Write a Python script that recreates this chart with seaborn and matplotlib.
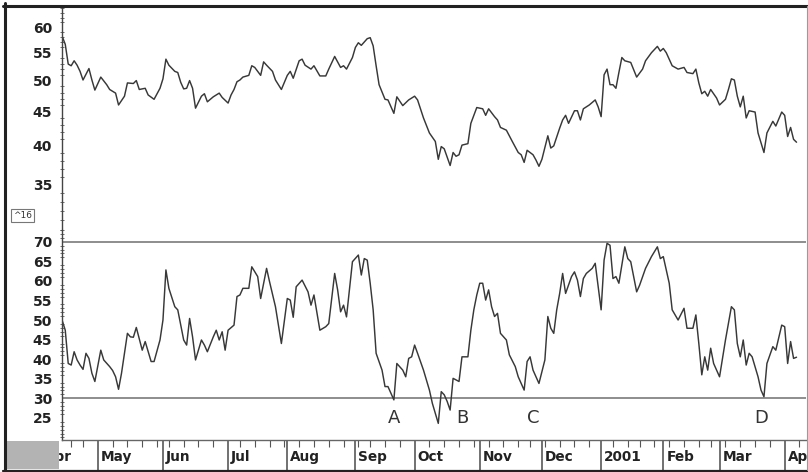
import numpy as np
import pandas as pd
import matplotlib
matplotlib.use("Agg")
import matplotlib.pyplot as plt
import seaborn as sns
from matplotlib.ticker import MultipleLocator, NullFormatter, FixedLocator
from matplotlib.transforms import offset_copy
from matplotlib.patches import Rectangle
from matplotlib.lines import Line2D

# ---------------- data ----------------
start_date = "2000-04-12"
holidays = ["2000-04-21", "2000-05-29", "2000-07-04", "2000-09-04", "2000-11-23",
            "2000-12-25", "2001-01-01", "2001-01-15", "2001-02-19"]

# price (top panel): trading-day offset from start_date, value
price_day = [0, 1, 2, 3, 4, 5, 6, 7, 9, 10, 11, 13, 15, 16, 18, 19, 21, 22, 24, 25, 26, 28, 29, 31,
             33, 34, 35, 36, 38, 39, 40, 41, 42, 43, 44, 45, 47, 48, 49, 51, 53, 54, 56, 57, 58, 59,
             60, 61, 63, 64, 65, 67, 68, 69, 71, 72, 74, 76, 77, 78, 80, 81, 82, 84, 85, 87, 89, 90,
             92, 94, 95, 96, 98, 99, 100, 101, 103, 104, 105, 106, 107, 109, 110, 112, 113, 115, 117,
             119, 120, 122, 124, 126, 127, 128, 129, 131, 132, 133, 134, 135, 137, 138, 140, 142, 143,
             144, 146, 147, 148, 150, 152, 154, 155, 156, 157, 159, 160, 161, 162, 164, 165, 166, 168,
             169, 170, 171, 173, 174, 175, 176, 178, 180, 181, 182, 183, 184, 185, 186, 187, 188, 189,
             190, 192, 194, 196, 197, 199, 201, 202, 203, 204, 206, 208, 210, 211, 213, 214, 215, 216,
             217, 218, 219, 221, 222, 224, 225, 226, 227, 228, 229, 230, 231, 232, 234, 235, 237, 238,
             240, 241, 243, 244, 245, 246, 247, 248]
price = [58.1, 56.6, 52.9, 52.6, 53.5, 52.7, 51.6, 50.1, 52.1, 50.1, 48.4, 50.6, 49.3, 48.5, 47.9, 46.0,
         47.4, 49.6, 49.5, 50.0, 48.5, 48.7, 47.6, 46.9, 48.7, 50.3, 53.8, 52.7, 51.6, 51.4, 49.7, 48.6,
         48.7, 50.0, 48.7, 45.5, 47.4, 47.8, 46.5, 47.3, 47.9, 47.2, 46.3, 47.6, 48.5, 49.8, 50.1, 50.6,
         50.9, 52.6, 52.3, 50.9, 53.3, 52.7, 51.6, 50.1, 48.5, 50.9, 51.6, 50.4, 53.5, 53.8, 52.7, 52.0,
         52.6, 50.8, 50.8, 52.0, 54.3, 52.3, 52.6, 52.0, 54.1, 56.0, 56.9, 56.4, 57.7, 57.9, 56.3, 52.6,
         49.3, 46.9, 46.8, 44.7, 47.3, 45.9, 46.8, 47.4, 46.8, 44.0, 41.8, 40.6, 38.2, 39.9, 39.6, 37.4,
         39.1, 38.6, 38.8, 40.1, 40.3, 43.2, 45.6, 45.4, 44.4, 45.4, 44.2, 43.7, 42.6, 42.2, 40.6, 39.1,
         38.8, 37.8, 39.4, 38.8, 38.1, 37.3, 38.2, 41.4, 39.7, 40.0, 42.5, 43.7, 44.4, 43.2, 45.1, 45.1,
         43.7, 45.4, 46.0, 46.8, 45.7, 44.2, 51.0, 52.0, 49.3, 49.3, 48.7, 51.4, 54.1, 53.5, 53.2, 50.6,
         52.0, 53.5, 55.0, 56.2, 55.3, 55.8, 55.0, 52.6, 52.0, 52.3, 51.4, 51.2, 52.0, 49.6, 47.8, 48.2,
         47.4, 48.5, 47.1, 46.0, 46.9, 48.5, 50.3, 50.1, 47.4, 45.7, 47.4, 44.0, 45.1, 44.9, 41.8, 39.1,
         41.8, 43.5, 42.8, 44.9, 44.4, 41.3, 42.6, 40.9, 40.5]

# oscillator (bottom panel)
osc_day = [0, 1, 2, 3, 4, 5, 6, 7, 8, 9, 10, 11, 13, 14, 16, 17, 18, 19, 20, 22, 23, 24, 25, 27, 28,
           29, 30, 31, 33, 34, 35, 36, 38, 39, 40, 41, 42, 43, 44, 45, 47, 48, 49, 51, 52, 53, 54, 55,
           56, 58, 59, 60, 61, 63, 64, 66, 67, 69, 70, 72, 73, 74, 76, 77, 78, 79, 81, 83, 84, 85, 87,
           89, 90, 92, 93, 94, 95, 96, 98, 100, 101, 102, 103, 104, 105, 106, 108, 109, 110, 112, 113,
           115, 116, 117, 118, 119, 120, 122, 124, 125, 127, 128, 129, 130, 131, 132, 134, 135, 137,
           138, 139, 140, 141, 142, 143, 144, 145, 146, 147, 148, 150, 151, 153, 154, 156, 157, 158,
           159, 161, 163, 164, 165, 166, 167, 168, 169, 170, 172, 173, 174, 175, 176, 177, 179, 180,
           181, 182, 183, 184, 185, 186, 187, 188, 190, 191, 192, 194, 195, 197, 199, 201, 202, 203,
           204, 205, 206, 207, 208, 210, 211, 213, 214, 215, 216, 217, 218, 219, 220, 222, 224, 226,
           227, 228, 229, 230, 231, 232, 233, 235, 236, 237, 238, 240, 241, 243, 244, 245, 246, 247, 248]
osc = [49.8, 47.4, 38.9, 38.5, 41.9, 39.8, 38.5, 37.4, 41.5, 40.2, 36.4, 34.3, 42.3, 39.8, 38.1, 37.1,
       35.5, 32.3, 36.4, 46.6, 45.7, 45.6, 48.1, 42.3, 44.5, 41.9, 39.4, 39.4, 44.9, 50.0, 62.8, 58.1,
       53.4, 52.6, 48.7, 44.9, 43.6, 50.4, 45.7, 39.8, 44.9, 43.6, 41.9, 45.7, 47.4, 44.9, 47.0, 42.3,
       47.4, 48.7, 56.0, 56.4, 58.1, 58.1, 63.6, 61.1, 55.5, 63.2, 59.8, 53.4, 48.7, 44.0, 55.5, 55.1,
       50.7, 58.5, 60.2, 57.2, 53.8, 56.4, 47.4, 48.3, 49.1, 61.9, 57.7, 52.1, 53.8, 50.8, 64.9, 66.6,
       61.5, 65.7, 65.3, 59.4, 52.6, 41.5, 37.2, 33.0, 33.0, 29.6, 38.9, 37.2, 35.5, 40.2, 40.6, 43.6,
       41.5, 37.2, 32.1, 28.7, 23.6, 31.7, 30.9, 29.2, 27.0, 35.1, 34.3, 40.6, 40.6, 47.4, 52.6, 56.4,
       59.4, 59.4, 55.1, 57.7, 53.4, 50.9, 51.7, 46.6, 44.9, 41.1, 38.1, 35.5, 32.1, 39.4, 40.6, 37.2,
       33.8, 39.8, 50.9, 47.9, 46.6, 52.6, 56.8, 61.9, 56.8, 61.1, 62.3, 60.2, 56.0, 60.6, 61.9, 63.2,
       64.5, 58.5, 52.6, 65.3, 69.6, 69.1, 60.6, 61.1, 59.4, 68.7, 65.7, 64.9, 57.2, 58.9, 63.2, 66.2,
       68.7, 65.7, 66.2, 62.8, 59.4, 52.6, 51.3, 50.0, 53.0, 47.9, 47.9, 51.3, 44.0, 36.0, 40.6, 37.2,
       42.8, 38.9, 35.5, 44.9, 53.4, 52.6, 44.0, 40.6, 44.9, 38.5, 41.5, 40.6, 35.5, 32.1, 30.4, 38.9,
       43.2, 42.3, 48.7, 48.3, 38.9, 44.5, 40.2, 40.5]

upper_level = 70
lower_level = 30
price_ticks = [35, 40, 45, 50, 55, 60]
osc_ticks = [25, 30, 35, 40, 45, 50, 55, 60, 65, 70]
signal_labels = ["A", "B", "C", "D"]
signal_day = [112, 135, 159, 236]
signal_level = [25, 25, 25, 25]
panel_tag = "^16"

# ---------------- calendar ----------------
cal = pd.bdate_range("2000-03-01", "2001-04-30", freq="C", holidays=holidays)
i0 = int(np.where(cal == pd.Timestamp(start_date))[0][0])
pos = np.arange(len(cal)) - i0
months = pd.Series(cal.to_period("M"))
first_of_month = (months != months.shift()).values
month_start = pos[first_of_month]
month_dates = cal[first_of_month]
wk = pd.Series(cal.weekday)
week_start = pos[(wk < wk.shift()).values]

XMIN, XMAX = -0.1, 251.2

# ---------------- figure ----------------
sns.set_style("white")
plt.rcParams["font.family"] = ["DejaVu Sans"]

W, H = 808, 472
fig = plt.figure(figsize=(W / 100, H / 100), dpi=100)
ax1 = fig.add_axes([62 / W, 242 / H, 744 / W, 223 / H])
ax2 = fig.add_axes([62 / W, 32 / H, 744 / W, 210 / H])

line_col = "#383838"
sns.lineplot(x=price_day, y=price, ax=ax1, color=line_col, linewidth=1.05,
             estimator=None, sort=False)
sns.lineplot(x=osc_day, y=osc, ax=ax2, color=line_col, linewidth=1.05,
             estimator=None, sort=False)

ax1.set_yscale("log")
ax1.set_ylim(30.0, 64.3)
ax2.set_ylim(19.35, 73.0)
for ax in (ax1, ax2):
    ax.set_xlim(XMIN, XMAX)
    ax.set_xlabel("")
    ax.set_ylabel("")
    for s in ("top", "right"):
        ax.spines[s].set_visible(False)
    ax.spines["left"].set_color("#444444")
    ax.spines["left"].set_linewidth(1.0)

ax1.spines["bottom"].set_visible(False)
ax2.spines["bottom"].set_color("#666666")
ax2.spines["bottom"].set_linewidth(1.0)

tick_font = dict(fontsize=10, fontweight="bold", color="#222222")
month_font = dict(fontsize=9.8, fontweight="bold", color="#222222")

ax1.yaxis.set_major_locator(FixedLocator(price_ticks))
ax1.set_yticklabels([str(t) for t in price_ticks], **tick_font)
ax1.yaxis.set_minor_locator(MultipleLocator(1))
ax1.yaxis.set_minor_formatter(NullFormatter())
ax1.tick_params(axis="x", which="both", length=0, labelbottom=False)

ax2.set_yticks(osc_ticks)
ax2.set_yticklabels([str(t) for t in osc_ticks], **tick_font)
ax2.yaxis.set_minor_locator(MultipleLocator(1))

for ax in (ax1, ax2):
    ax.tick_params(axis="y", which="major", direction="out", length=5, width=0.8,
                   pad=2.2, color="#444444")
    ax.tick_params(axis="y", which="minor", direction="inout", length=2.2, width=0.6,
                   color="#555555", left=True)

# x axis strip: month separators and weekly ticks
ax2.set_xticks([p for p in month_start if XMIN <= p <= XMAX])
ax2.set_xticks([p for p in week_start if XMIN <= p <= XMAX], minor=True)
ax2.tick_params(axis="x", which="major", direction="out", length=21.6, width=1.1,
                color="#4a4a4a", labelbottom=False, bottom=True)
ax2.tick_params(axis="x", which="minor", direction="out", length=5, width=0.8,
                color="#555555", bottom=True)

lab_trans = offset_copy(ax2.get_xaxis_transform(), fig=fig, x=3, y=-17, units="dots")
for p, d in zip(month_start, month_dates):
    if p < -10 or p > 255:
        continue
    name = str(d.year) if d.month == 1 else d.strftime("%b")
    ax2.text(p, 0, name, transform=lab_trans, ha="left", va="center", **month_font)

# reference levels
ax2.axhline(upper_level, color="#858585", linewidth=1.3, zorder=1)
ax2.axhline(lower_level, color="#858585", linewidth=1.3, zorder=1)

# signal letters
for lab, d, v in zip(signal_labels, signal_day, signal_level):
    ax2.text(d, v, lab, ha="center", va="center", fontsize=13, color="#333333")

# panel tag
fig.text(22.5 / W, 1 - 215.5 / H, panel_tag, fontsize=6.5, ha="center", va="center",
         color="#333333",
         bbox=dict(boxstyle="square,pad=0.25", fc="white", ec="#777777", lw=0.8))

# frame
fig.add_artist(Rectangle((6 / W, 1 - 469 / H), 53 / W, 28 / H, transform=fig.transFigure,
                         fc="#b3b3b3", ec="none", zorder=5))
fig.add_artist(Line2D([4.5 / W, 4.5 / W], [1 - 3 / H, 1 - 471 / H], transform=fig.transFigure,
                      color="#222222", linewidth=2.2, zorder=6))
fig.add_artist(Line2D([3 / W, 808 / W], [1 - 5.5 / H, 1 - 5.5 / H], transform=fig.transFigure,
                      color="#222222", linewidth=2.2, zorder=6))
fig.add_artist(Line2D([3 / W, 808 / W], [1 - 470.5 / H, 1 - 470.5 / H], transform=fig.transFigure,
                      color="#222222", linewidth=1.6, zorder=6))
fig.add_artist(Line2D([806.5 / W, 806.5 / W], [1 - 6 / H, 1 - 470 / H], transform=fig.transFigure,
                      color="#9a9a9a", linewidth=0.8, zorder=6))

fig.savefig("out.png", dpi=100)
